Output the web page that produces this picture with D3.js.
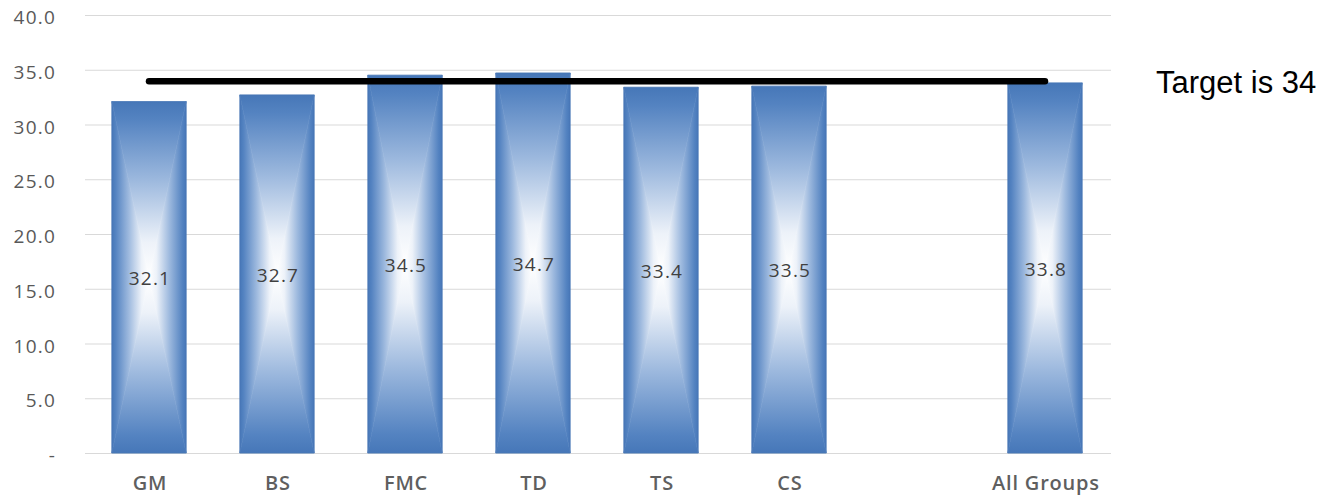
<!DOCTYPE html>
<html>
<head>
<meta charset="utf-8">
<script src="https://cdn.jsdelivr.net/npm/d3@7/dist/d3.min.js"></script>
<style>
  html, body { margin: 0; padding: 0; background: #fff; }
  svg { display: block; }
</style>
</head>
<body>
<svg id="chart" width="1335" height="497"></svg>
<script>
// Average scores by group, plus the overall figure
const categories = ["GM", "BS", "FMC", "TD", "TS", "CS", "", "All Groups"];
const values = [32.1, 32.7, 34.5, 34.7, 33.4, 33.5, null, 33.8];
const yTicks = [0, 5, 10, 15, 20, 25, 30, 35, 40];
const yTickLabels = ["-", "5.0", "10.0", "15.0", "20.0", "25.0", "30.0", "35.0", "40.0"];
const target = 34;
const targetLabel = "Target is 34";

const svg = d3.select("#chart");
const plot = { left: 85, right: 1109, top: 15, bottom: 453 };
const labelFont = "'Open Sans', sans-serif";

const x = d3.scaleBand()
  .domain(categories.map((c, i) => i))
  .range([plot.left, plot.right])
  .paddingInner(0.42)
  .paddingOuter(0.21);

const y = d3.scaleLinear().domain([0, 40]).range([plot.bottom, plot.top]);

// Gradients: blue at the bar edge fading to white at the centre
const defs = svg.append("defs");
const stops = [
  { o: 0, c: "#4677b8" },
  { o: 0.1, c: "#5483c1" },
  { o: 0.45, c: "#9db9de" },
  { o: 0.8, c: "#edf2f9" },
  { o: 1, c: "#ffffff" }
];
const dirs = {
  top: { x1: 0, y1: 0, x2: 0, y2: 1 },
  bottom: { x1: 0, y1: 1, x2: 0, y2: 0 },
  left: { x1: 0, y1: 0, x2: 1, y2: 0 },
  right: { x1: 1, y1: 0, x2: 0, y2: 0 }
};
Object.entries(dirs).forEach(([k, d]) => {
  const g = defs.append("linearGradient").attr("id", "g-" + k)
    .attr("x1", d.x1).attr("y1", d.y1).attr("x2", d.x2).attr("y2", d.y2);
  stops.forEach(s => g.append("stop").attr("offset", s.o).attr("stop-color", s.c));
});

// Gridlines
svg.append("g")
  .selectAll("line")
  .data(yTicks)
  .join("line")
  .attr("x1", plot.left).attr("x2", plot.right + 2)
  .attr("y1", d => y(d) + 0.5).attr("y2", d => y(d) + 0.5)
  .attr("stroke", "#d9d9d9").attr("stroke-width", 1);

// Y axis labels
const yAxis = d3.axisLeft(y)
  .tickValues(yTicks)
  .tickSize(0)
  .tickPadding(0)
  .tickFormat((d, i) => yTickLabels[i]);
svg.append("g")
  .attr("transform", `translate(56,2)`)
  .call(yAxis)
  .call(g => g.select(".domain").remove())
  .call(g => g.selectAll("text")
    .attr("fill", "#595959")
    .attr("font-family", labelFont)
    .attr("font-size", 19)
    .attr("font-weight", 500)
    .attr("letter-spacing", 1.2)
    .attr("dy", "0.35em"));

// Bars, each built from four triangles meeting at the centre
const barData = values.map((v, i) => ({ i, v })).filter(d => d.v != null);
const bars = svg.append("g").selectAll("g").data(barData).join("g");
bars.each(function (d) {
  const g = d3.select(this);
  const x0 = x(d.i), x1 = x(d.i) + x.bandwidth();
  const y0 = y(d.v), y1 = y(0);
  const cx = (x0 + x1) / 2, cy = (y0 + y1) / 2;
  const tris = [
    { k: "top", p: [[x0, y0], [x1, y0], [cx, cy]] },
    { k: "bottom", p: [[x0, y1], [x1, y1], [cx, cy]] },
    { k: "left", p: [[x0, y0], [x0, y1], [cx, cy]] },
    { k: "right", p: [[x1, y0], [x1, y1], [cx, cy]] }
  ];
  tris.forEach(t => {
    g.append("path")
      .attr("d", "M" + t.p.map(q => q.join(",")).join("L") + "Z")
      .attr("fill", `url(#g-${t.k})`)
      .attr("stroke", `url(#g-${t.k})`)
      .attr("stroke-width", 0.6);
  });
  g.append("rect")
    .attr("x", x0).attr("y", y0)
    .attr("width", x1 - x0).attr("height", y1 - y0)
    .attr("fill", "none").attr("stroke", "#4a78b6").attr("stroke-width", 1).attr("stroke-opacity", 0.5);
});

// Value labels at the middle of each bar
svg.append("g").selectAll("text").data(barData).join("text")
  .attr("x", d => x(d.i) + x.bandwidth() / 2 + 1)
  .attr("y", d => (y(d.v) + y(0)) / 2 + 1)
  .attr("dy", "0.35em")
  .attr("text-anchor", "middle")
  .attr("fill", "#404040")
  .attr("font-family", labelFont)
  .attr("font-size", 19)
  .attr("font-weight", 500)
  .attr("letter-spacing", 1.2)
  .text(d => d.v.toFixed(1));

// Category axis
const xAxis = d3.axisBottom(x).tickSize(0).tickFormat(i => categories[i]);
svg.append("g")
  .attr("transform", `translate(1,${plot.bottom + 20})`)
  .call(xAxis)
  .call(g => g.select(".domain").remove())
  .call(g => g.selectAll("text")
    .attr("fill", "#5f5f5f")
    .attr("font-family", labelFont)
    .attr("font-size", 20)
    .attr("font-weight", 600)
    .attr("letter-spacing", 0.8));

// Target line, running from the first bar's centre to the last bar's centre
svg.append("line")
  .attr("x1", x(0) + x.bandwidth() / 2)
  .attr("x2", x(categories.length - 1) + x.bandwidth() / 2)
  .attr("y1", y(target) + 0.5).attr("y2", y(target) + 0.5)
  .attr("stroke", "#000").attr("stroke-width", 6.5).attr("stroke-linecap", "round");

svg.append("text")
  .attr("x", 1156).attr("y", 93)
  .attr("fill", "#000")
  .attr("font-family", "'Liberation Sans', Arial, sans-serif")
  .attr("font-size", 31)
  .text(targetLabel);
</script>
</body>
</html>
